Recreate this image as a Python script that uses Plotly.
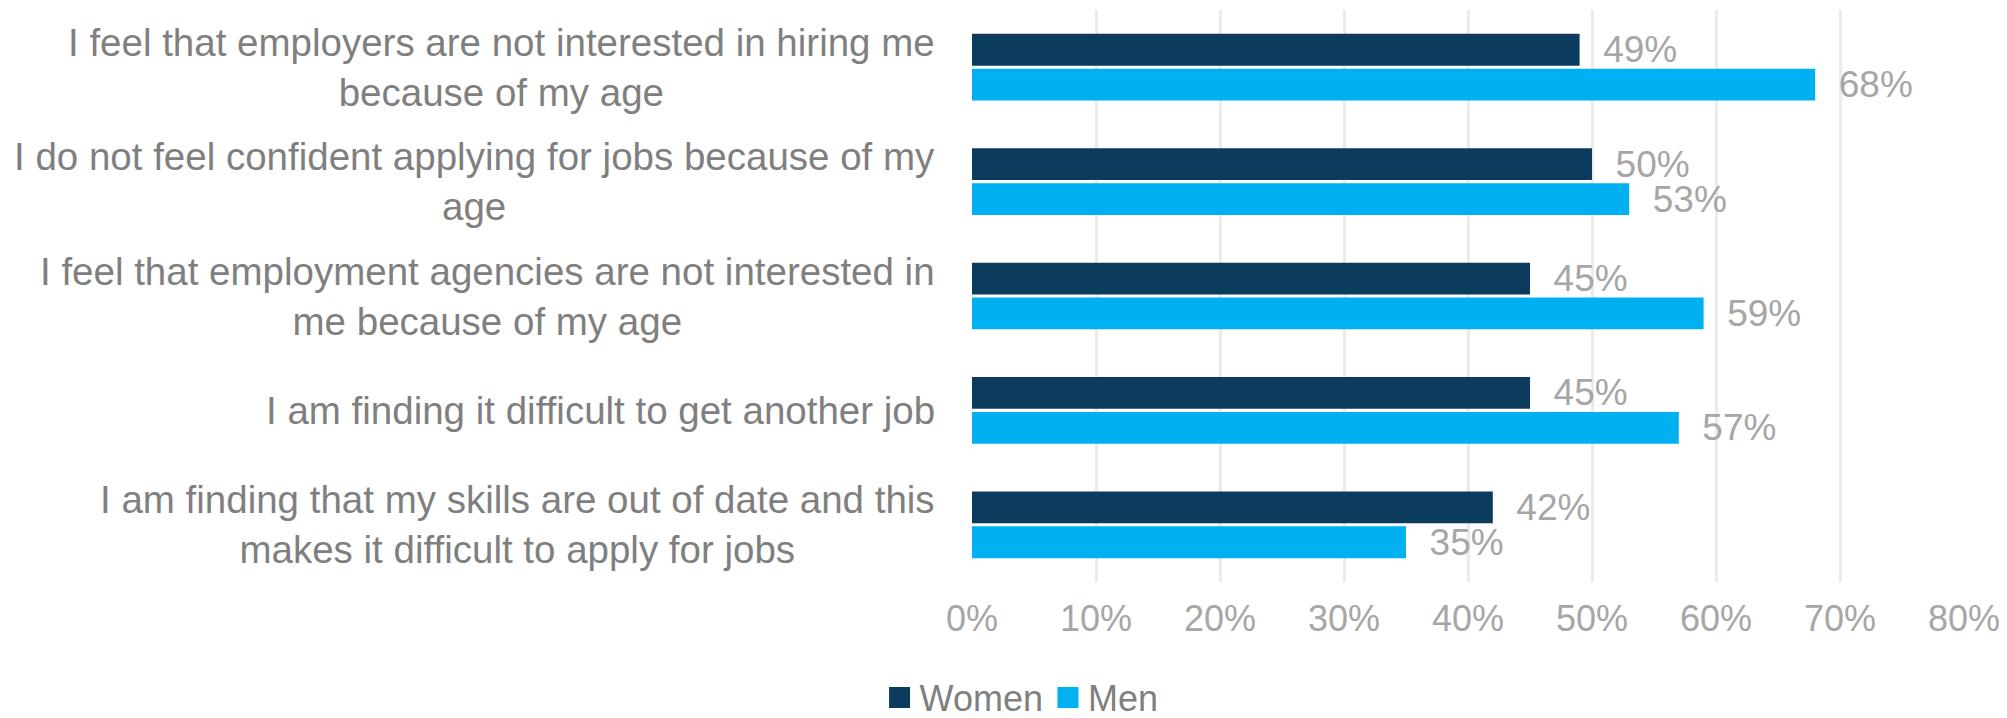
import plotly.graph_objects as go

categories = [
    "I feel that employers are not interested in hiring me<br>because of my age",
    "I do not feel confident applying for jobs because of my<br>age",
    "I feel that employment agencies are not interested in<br>me because of my age",
    "I am finding it difficult to get another job",
    "I am finding that my skills are out of date and this<br>makes it difficult to apply for jobs",
]
women = [0.49, 0.50, 0.45, 0.45, 0.42]
men = [0.68, 0.53, 0.59, 0.57, 0.35]
series_names = ["Women", "Men"]
tick_vals = [0, 0.1, 0.2, 0.3, 0.4, 0.5, 0.6, 0.7, 0.8]

WOMEN_COLOR = "#0B3C5D"
MEN_COLOR = "#00B0F0"
FONT = "Liberation Sans, Arial, sans-serif"
LABEL_GRAY = "#A6A6A6"
CAT_GRAY = "#7F7F7F"
PAD = "\u00a0\u00a0"

fig = go.Figure()
for name, vals, col in [(series_names[0], women, WOMEN_COLOR), (series_names[1], men, MEN_COLOR)]:
    fig.add_trace(go.Bar(
        y=categories, x=vals, orientation="h", name=name,
        marker=dict(color=col, line=dict(width=0)),
        text=[f"{PAD}{v:.0%}" for v in vals],
        textposition="outside",
        constraintext="none",
        textfont=dict(family=FONT, size=37, color=LABEL_GRAY),
        cliponaxis=False,
        showlegend=False,
    ))
    # legend proxy with larger square symbol
    fig.add_trace(go.Scatter(
        x=[None], y=[None], mode="markers", name=name,
        marker=dict(symbol="square", size=16, color=col, line=dict(color=col, width=5)),
        showlegend=True,
    ))

for cat in categories:
    fig.add_annotation(
        x=0, xref="paper", y=cat, yref="y", text=cat,
        xanchor="right", yanchor="middle", align="center", xshift=-35,
        showarrow=False, font=dict(family=FONT, size=38.5, color=CAT_GRAY),
    )

fig.update_layout(
    width=2007, height=718,
    margin=dict(l=972, r=43, t=10, b=136, autoexpand=False),
    paper_bgcolor="white", plot_bgcolor="white",
    barmode="group", bargap=0.39, bargroupgap=0.088,
    uniformtext=dict(mode=False),
    legend=dict(
        orientation="h", xref="container", yref="paper",
        x=0.509, xanchor="center", y=-0.202, yanchor="middle",
        font=dict(family=FONT, size=36, color=CAT_GRAY),
        itemsizing="trace", bgcolor="rgba(0,0,0,0)",
    ),
    xaxis=dict(
        range=[0, 0.8], tickvals=tick_vals, tickformat=".0%",
        showgrid=True, gridcolor="#EBEBEB", gridwidth=2.5,
        zeroline=False, showline=False, ticks="",
        ticklabelstandoff=12,
        tickfont=dict(family=FONT, size=36, color=LABEL_GRAY),
        fixedrange=True,
    ),
    yaxis=dict(
        autorange="reversed", showticklabels=False, showgrid=False,
        zeroline=False, showline=False, ticks="",
    ),
    font=dict(family=FONT),
)

fig.write_html("out.html")
